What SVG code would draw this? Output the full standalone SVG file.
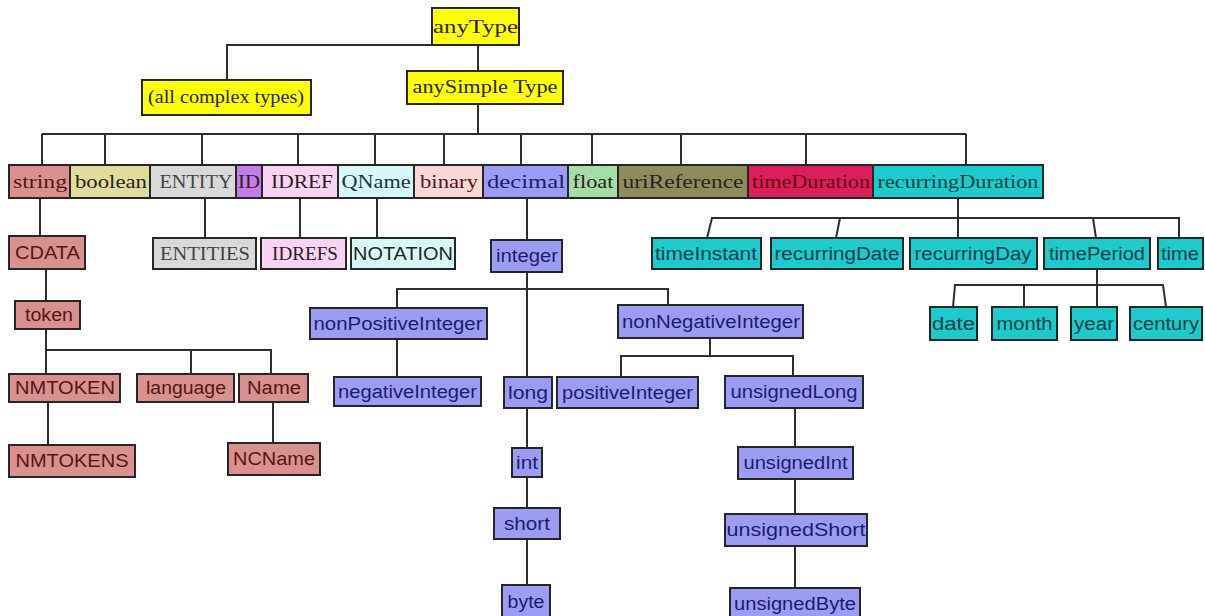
<svg xmlns="http://www.w3.org/2000/svg" width="1205" height="616" viewBox="0 0 1205 616">
<style>
.n rect{stroke:#262626;stroke-width:2}
.y{fill:#ffff00}.str{fill:#d8918f}.bool{fill:#e0dc9c}.ent{fill:#d9d9d9}.id{fill:#c27ee6}.idr{fill:#f8d4f4}.qn{fill:#d8f8f8}.bin{fill:#f8d8d6}.dec{fill:#9c9cf4}.flt{fill:#a6dca6}.uri{fill:#8e8c5c}.td{fill:#dc1e5a}.cy{fill:#1ccccc}
text{text-anchor:middle;fill:#2a2222}
.s{font-family:"Liberation Serif","Times New Roman",serif;font-size:19px}
.a{font-family:"Liberation Sans",Arial,sans-serif;font-size:18px}
.tp{fill:#5a1414}.tb{fill:#1c1c6e}.tc{fill:#0a3c4a}.tg{fill:#444}
#connectors path{fill:none;stroke:#2e2e2e;stroke-width:2}
</style>
<rect x="0" y="0" width="1205" height="616" fill="#fff"/>
<g id="connectors">
<path d="M432,45H227V80"/>
<path d="M478,45V71"/>
<path d="M478,104V134"/>
<path d="M42,134H966"/>
<path d="M42,134V165M105,134V165M202,134V165M298,134V165M375,134V165M444,134V165M521,134V165M592,134V165M681,134V165M806,134V165M966,134V165"/>
<path d="M40,198V236"/>
<path d="M46,269V301"/>
<path d="M46,329V374M46,350H271V374M191,350V374"/>
<path d="M48,402V445"/>
<path d="M273,402V443"/>
<path d="M205,198V238"/>
<path d="M300,198V238"/>
<path d="M377,198V238"/>
<path d="M527,198V240"/>
<path d="M527,272V377"/>
<path d="M397,308V289H668V305"/>
<path d="M397,339V377"/>
<path d="M527,408V448M527,477V508M527,539V585"/>
<path d="M710,338V356M621,377V356H793V376"/>
<path d="M795,408V447M795,479V514M795,546V588"/>
<path d="M958,198V218"/>
<path d="M707,238L712,218H1179V238M840,218L836,238M958,218V238M1093,218L1096,238"/>
<path d="M1097,269V285"/>
<path d="M953,307L955,285H1163L1166,307M1024,285V307M1097,285V307"/>
</g>
<g class="n">
<g id="anyType"><rect class="y" x="432" y="8" width="87" height="37"/><text class="s" x="475.5" y="33" textLength="85" lengthAdjust="spacingAndGlyphs">anyType</text></g>
<g id="allComplexTypes"><rect class="y" x="142" y="80" width="169" height="35"/><text class="s" x="226" y="103" font-size="17" textLength="156" lengthAdjust="spacingAndGlyphs">(all complex types)</text></g>
<g id="anySimpleType"><rect class="y" x="407" y="71" width="156" height="33"/><text class="s" x="485" y="93" textLength="145" lengthAdjust="spacingAndGlyphs">anySimple Type</text></g>

<g id="string"><rect class="str" x="9" y="165" width="61" height="33"/><text class="s tp" x="40" y="188" textLength="54" lengthAdjust="spacingAndGlyphs">string</text></g>
<g id="boolean"><rect class="bool" x="70" y="165" width="80" height="33"/><text class="s" x="111" y="188" textLength="72" lengthAdjust="spacingAndGlyphs">boolean</text></g>
<g id="ENTITY"><rect class="ent" x="150" y="165" width="86" height="33"/><text class="s tg" x="196" y="188" textLength="73" lengthAdjust="spacingAndGlyphs">ENTITY</text></g>
<g id="ID"><rect class="id" x="236" y="165" width="26" height="33"/><text class="s" x="249" y="188" textLength="22" lengthAdjust="spacingAndGlyphs">ID</text></g>
<g id="IDREF"><rect class="idr" x="262" y="165" width="76" height="33"/><text class="s" x="302" y="188" textLength="62" lengthAdjust="spacingAndGlyphs">IDREF</text></g>
<g id="QName"><rect class="qn" x="338" y="165" width="76" height="33"/><text class="s tc" x="376" y="188" textLength="69" lengthAdjust="spacingAndGlyphs">QName</text></g>
<g id="binary"><rect class="bin" x="414" y="165" width="69" height="33"/><text class="s tp" x="449" y="188" textLength="58" lengthAdjust="spacingAndGlyphs">binary</text></g>
<g id="decimal"><rect class="dec" x="483" y="165" width="85" height="33"/><text class="s tb" x="526" y="188" textLength="78" lengthAdjust="spacingAndGlyphs">decimal</text></g>
<g id="float"><rect class="flt" x="568" y="165" width="50" height="33"/><text class="s" x="593" y="188" textLength="41" lengthAdjust="spacingAndGlyphs">float</text></g>
<g id="uriReference"><rect class="uri" x="618" y="165" width="130" height="33"/><text class="s" x="683" y="188" textLength="121" lengthAdjust="spacingAndGlyphs">uriReference</text></g>
<g id="timeDuration"><rect class="td" x="748" y="165" width="125" height="33"/><text class="s tp" x="811" y="188" textLength="118" lengthAdjust="spacingAndGlyphs">timeDuration</text></g>
<g id="recurringDuration"><rect class="cy" x="873" y="165" width="170" height="33"/><text class="s tc" x="958" y="188" textLength="161" lengthAdjust="spacingAndGlyphs">recurringDuration</text></g>

<g id="CDATA"><rect class="str" x="9" y="236" width="76" height="33"/><text class="a tp" x="47.5" y="259" textLength="65" lengthAdjust="spacingAndGlyphs">CDATA</text></g>
<g id="ENTITIES"><rect class="ent" x="153" y="238" width="103" height="31"/><text class="s tg" x="205" y="260" textLength="90" lengthAdjust="spacingAndGlyphs">ENTITIES</text></g>
<g id="IDREFS"><rect class="idr" x="261" y="238" width="85" height="31"/><text class="s" x="305" y="260" textLength="66" lengthAdjust="spacingAndGlyphs">IDREFS</text></g>
<g id="NOTATION"><rect class="qn" x="351" y="238" width="104" height="31"/><text class="a" x="403" y="260" textLength="100" lengthAdjust="spacingAndGlyphs">NOTATION</text></g>
<g id="integer"><rect class="dec" x="491" y="240" width="71" height="32"/><text class="a tb" x="527" y="262" textLength="62" lengthAdjust="spacingAndGlyphs">integer</text></g>
<g id="timeInstant"><rect class="cy" x="652" y="238" width="109" height="31"/><text class="a tc" x="706" y="260" textLength="102" lengthAdjust="spacingAndGlyphs">timeInstant</text></g>
<g id="recurringDate"><rect class="cy" x="771" y="238" width="132" height="31"/><text class="a tc" x="837" y="260" textLength="125" lengthAdjust="spacingAndGlyphs">recurringDate</text></g>
<g id="recurringDay"><rect class="cy" x="910" y="238" width="127" height="31"/><text class="a tc" x="973" y="260" textLength="117" lengthAdjust="spacingAndGlyphs">recurringDay</text></g>
<g id="timePeriod"><rect class="cy" x="1044" y="238" width="106" height="31"/><text class="a tc" x="1097" y="260" textLength="96" lengthAdjust="spacingAndGlyphs">timePeriod</text></g>
<g id="time"><rect class="cy" x="1158" y="238" width="45" height="31"/><text class="a tc" x="1180" y="260" textLength="38" lengthAdjust="spacingAndGlyphs">time</text></g>

<g id="token"><rect class="str" x="15" y="301" width="65" height="28"/><text class="a tp" x="49" y="321" textLength="48" lengthAdjust="spacingAndGlyphs">token</text></g>
<g id="nonPositiveInteger"><rect class="dec" x="310" y="308" width="177" height="31"/><text class="a tb" x="398" y="330" textLength="169" lengthAdjust="spacingAndGlyphs">nonPositiveInteger</text></g>
<g id="nonNegativeInteger"><rect class="dec" x="618" y="305" width="185" height="33"/><text class="a tb" x="711" y="328" textLength="178" lengthAdjust="spacingAndGlyphs">nonNegativeInteger</text></g>
<g id="date"><rect class="cy" x="930" y="307" width="47" height="33"/><text class="a tc" x="953.5" y="330" textLength="43" lengthAdjust="spacingAndGlyphs">date</text></g>
<g id="month"><rect class="cy" x="992" y="307" width="65" height="33"/><text class="a tc" x="1024.5" y="330" textLength="56" lengthAdjust="spacingAndGlyphs">month</text></g>
<g id="year"><rect class="cy" x="1071" y="307" width="46" height="33"/><text class="a tc" x="1094" y="330" textLength="40" lengthAdjust="spacingAndGlyphs">year</text></g>
<g id="century"><rect class="cy" x="1130" y="307" width="72" height="33"/><text class="a tc" x="1166" y="330" textLength="66" lengthAdjust="spacingAndGlyphs">century</text></g>

<g id="NMTOKEN"><rect class="str" x="9" y="374" width="111" height="28"/><text class="a tp" x="65" y="394" textLength="100" lengthAdjust="spacingAndGlyphs">NMTOKEN</text></g>
<g id="language"><rect class="str" x="137" y="374" width="97" height="28"/><text class="a tp" x="186" y="394" textLength="80" lengthAdjust="spacingAndGlyphs">language</text></g>
<g id="Name"><rect class="str" x="239" y="374" width="69" height="28"/><text class="a tp" x="274" y="394" textLength="54" lengthAdjust="spacingAndGlyphs">Name</text></g>
<g id="negativeInteger"><rect class="dec" x="334" y="377" width="147" height="29"/><text class="a tb" x="407.5" y="398" textLength="139" lengthAdjust="spacingAndGlyphs">negativeInteger</text></g>
<g id="long"><rect class="dec" x="504" y="377" width="48" height="31"/><text class="a tb" x="528" y="399" textLength="40" lengthAdjust="spacingAndGlyphs">long</text></g>
<g id="positiveInteger"><rect class="dec" x="557" y="377" width="141" height="31"/><text class="a tb" x="627.5" y="399" textLength="131" lengthAdjust="spacingAndGlyphs">positiveInteger</text></g>
<g id="unsignedLong"><rect class="dec" x="725" y="376" width="138" height="32"/><text class="a tb" x="794" y="398" textLength="127" lengthAdjust="spacingAndGlyphs">unsignedLong</text></g>

<g id="NMTOKENS"><rect class="str" x="9" y="445" width="126" height="32"/><text class="a tp" x="72" y="467" textLength="113" lengthAdjust="spacingAndGlyphs">NMTOKENS</text></g>
<g id="NCName"><rect class="str" x="228" y="443" width="92" height="32"/><text class="a tp" x="274" y="465" textLength="82" lengthAdjust="spacingAndGlyphs">NCName</text></g>
<g id="int"><rect class="dec" x="512" y="448" width="30" height="29"/><text class="a tb" x="527" y="469" textLength="22" lengthAdjust="spacingAndGlyphs">int</text></g>
<g id="unsignedInt"><rect class="dec" x="738" y="447" width="115" height="32"/><text class="a tb" x="795.5" y="469" textLength="104" lengthAdjust="spacingAndGlyphs">unsignedInt</text></g>

<g id="short"><rect class="dec" x="494" y="508" width="66" height="31"/><text class="a tb" x="527" y="530" textLength="46" lengthAdjust="spacingAndGlyphs">short</text></g>
<g id="unsignedShort"><rect class="dec" x="725" y="514" width="142" height="32"/><text class="a tb" x="796" y="536" textLength="139" lengthAdjust="spacingAndGlyphs">unsignedShort</text></g>

<g id="byte"><rect class="dec" x="502" y="585" width="48" height="35"/><text class="a tb" x="526" y="608" textLength="37" lengthAdjust="spacingAndGlyphs">byte</text></g>
<g id="unsignedByte"><rect class="dec" x="730" y="588" width="130" height="32"/><text class="a tb" x="795" y="610" textLength="122" lengthAdjust="spacingAndGlyphs">unsignedByte</text></g>
</g>
</svg>
